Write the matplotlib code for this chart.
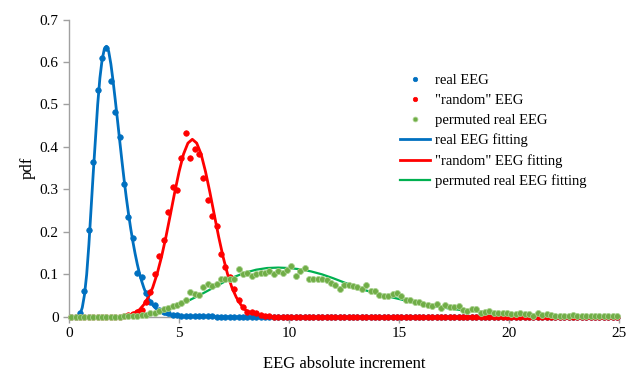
import numpy as np
import matplotlib.pyplot as plt

plt.rcParams['font.family'] = ['Liberation Serif', 'DejaVu Serif']

# abscissa of the histogram points (bin centres)
x_pts = np.round(np.arange(0.1, 25.0, 0.2), 1)

real_eeg = [
    0.000, 0.000, 0.008, 0.060, 0.204, 0.364, 0.535, 0.610, 0.634, 0.555,
    0.482, 0.423, 0.312, 0.234, 0.186, 0.104, 0.093, 0.057, 0.036, 0.029,
    0.016, 0.012, 0.008, 0.005, 0.004, 0.003, 0.003, 0.002, 0.002, 0.001,
    0.001, 0.001, 0.001, 0.000, 0.000, 0.000, 0.000, 0.000, 0.000, 0.000,
    0.000, 0.000, 0.000, 0.000, 0.000, 0.000, 0.000, 0.000, 0.000, 0.000,
    0.000, 0.000, 0.000, 0.000, 0.000, 0.000, 0.000, 0.000, 0.000, 0.000,
    0.000, 0.000, 0.000, 0.000, 0.000, 0.000, 0.000, 0.000, 0.000, 0.000,
    0.000, 0.000, 0.000, 0.000, 0.000, 0.000, 0.000, 0.000, 0.000, 0.000,
    0.000, 0.000, 0.000, 0.000, 0.000, 0.000, 0.000, 0.000, 0.000, 0.000,
    0.000, 0.000, 0.000, 0.000, 0.000, 0.000, 0.000, 0.000, 0.000, 0.000,
    0.000, 0.000, 0.000, 0.000, 0.000, 0.000, 0.000, 0.000, 0.000, 0.000,
    0.000, 0.000, 0.000, 0.000, 0.000, 0.000, 0.000, 0.000, 0.000, 0.000,
    0.000, 0.000, 0.000, 0.000, 0.000,
]

random_eeg = [
    0.000, 0.000, 0.000, 0.000, 0.000, 0.000, 0.000, 0.000, 0.000, 0.000,
    0.000, 0.000, 0.002, 0.004, 0.007, 0.011, 0.017, 0.035, 0.059, 0.100,
    0.143, 0.182, 0.246, 0.306, 0.298, 0.375, 0.434, 0.374, 0.395, 0.384,
    0.326, 0.276, 0.237, 0.213, 0.148, 0.118, 0.093, 0.066, 0.039, 0.024,
    0.012, 0.012, 0.010, 0.005, 0.002, 0.001, 0.000, 0.000, 0.000, 0.000,
    0.000, 0.000, 0.000, 0.000, 0.000, 0.000, 0.000, 0.000, 0.000, 0.000,
    0.000, 0.000, 0.000, 0.000, 0.000, 0.000, 0.000, 0.000, 0.000, 0.000,
    0.000, 0.000, 0.000, 0.000, 0.000, 0.000, 0.000, 0.000, 0.000, 0.000,
    0.000, 0.000, 0.000, 0.000, 0.000, 0.000, 0.000, 0.000, 0.000, 0.000,
    0.000, 0.000, 0.000, 0.000, 0.000, 0.000, 0.000, 0.000, 0.000, 0.000,
    0.000, 0.000, 0.000, 0.000, 0.000, 0.000, 0.000, 0.000, 0.000, 0.000,
    0.000, 0.000, 0.000, 0.000, 0.000, 0.000, 0.000, 0.000, 0.000, 0.000,
    0.000, 0.000, 0.000, 0.000, 0.000,
]

permuted_eeg = [
    0.000, 0.000, 0.000, 0.000, 0.000, 0.000, 0.000, 0.000, 0.000, 0.000,
    0.000, 0.000, 0.001, 0.001, 0.002, 0.003, 0.004, 0.005, 0.008, 0.010,
    0.015, 0.019, 0.021, 0.026, 0.029, 0.032, 0.040, 0.059, 0.053, 0.051,
    0.070, 0.078, 0.072, 0.078, 0.089, 0.089, 0.090, 0.090, 0.113, 0.102,
    0.103, 0.097, 0.102, 0.103, 0.104, 0.108, 0.100, 0.108, 0.104, 0.110,
    0.119, 0.096, 0.108, 0.114, 0.089, 0.090, 0.089, 0.089, 0.087, 0.080,
    0.075, 0.066, 0.075, 0.074, 0.073, 0.070, 0.066, 0.076, 0.061, 0.060,
    0.052, 0.048, 0.048, 0.053, 0.056, 0.048, 0.040, 0.040, 0.036, 0.035,
    0.031, 0.029, 0.025, 0.031, 0.020, 0.027, 0.024, 0.024, 0.026, 0.016,
    0.013, 0.019, 0.018, 0.010, 0.012, 0.013, 0.010, 0.009, 0.009, 0.008,
    0.007, 0.007, 0.009, 0.006, 0.006, 0.003, 0.008, 0.005, 0.006, 0.005,
    0.003, 0.003, 0.003, 0.003, 0.004, 0.003, 0.003, 0.002, 0.002, 0.002,
    0.002, 0.002, 0.002, 0.002, 0.002,
]

# fitted curves
real_fit_x = [0.0, 0.3, 0.4, 0.5, 0.6, 0.7, 0.8, 0.9, 1.0, 1.1, 1.2, 1.3, 1.4,
              1.5, 1.6, 1.7, 1.8, 1.9, 2.0, 2.1, 2.2, 2.3, 2.4, 2.5, 2.6, 2.7,
              2.8, 2.9, 3.0, 3.1, 3.2, 3.3, 3.4, 3.5, 3.6, 3.7, 3.8, 3.9, 4.0,
              4.2, 4.4, 4.6, 4.8, 5.0, 5.5, 6.0, 7.0, 25.0]
real_fit = [0.0, 0.0, 0.001, 0.006, 0.022, 0.052, 0.100, 0.170, 0.255, 0.340,
            0.420, 0.500, 0.562, 0.605, 0.630, 0.637, 0.625, 0.595, 0.555,
            0.510, 0.463, 0.415, 0.368, 0.323, 0.281, 0.243, 0.208, 0.177,
            0.149, 0.124, 0.102, 0.084, 0.068, 0.055, 0.044, 0.035, 0.028,
            0.022, 0.017, 0.010, 0.006, 0.0035, 0.002, 0.001, 0.0004, 0.0001,
            0.0, 0.0]

random_fit_x = [0.0, 2.0, 2.4, 2.8, 3.0, 3.2, 3.4, 3.6, 3.8, 4.0, 4.2, 4.4,
                4.6, 4.8, 5.0, 5.2, 5.4, 5.6, 5.8, 6.0, 6.2, 6.4, 6.6, 6.8,
                7.0, 7.2, 7.4, 7.6, 7.8, 8.0, 8.2, 8.4, 8.6, 8.8, 9.0, 10.0,
                25.0]
random_fit = [0.0, 0.0003, 0.0014, 0.0054, 0.010, 0.017, 0.029, 0.046, 0.069,
              0.101, 0.141, 0.188, 0.240, 0.293, 0.342, 0.383, 0.409, 0.418,
              0.409, 0.383, 0.342, 0.293, 0.240, 0.188, 0.141, 0.101, 0.069,
              0.046, 0.029, 0.017, 0.010, 0.005, 0.003, 0.001, 0.0005, 0.0,
              0.0]

permuted_fit_x = [0.0, 1.0, 1.5, 2.0, 2.5, 3.0, 3.5, 4.0, 4.5, 5.0, 5.5, 6.0,
                  6.5, 7.0, 7.5, 8.0, 8.5, 9.0, 9.5, 10.0, 10.5, 11.0, 11.5,
                  12.0, 12.5, 13.0, 13.5, 14.0, 14.5, 15.0, 15.5, 16.0, 16.5,
                  17.0, 17.5, 18.0, 18.5, 19.0, 19.5, 20.0, 20.5, 21.0, 22.0,
                  23.0, 24.0, 25.0]
permuted_fit = [0.0, 0.0, 0.0002, 0.001, 0.002, 0.003, 0.006, 0.011, 0.019,
                0.028, 0.040, 0.053, 0.067, 0.081, 0.094, 0.104, 0.111, 0.115,
                0.116, 0.115, 0.112, 0.107, 0.100, 0.091, 0.081, 0.071, 0.062,
                0.055, 0.048, 0.042, 0.036, 0.031, 0.026, 0.022, 0.018, 0.015,
                0.013, 0.011, 0.009, 0.007, 0.006, 0.005, 0.003, 0.002,
                0.0015, 0.001]

blue = '#0070C0'
red = '#FF0000'
green_dot = '#70AD47'
green_line = '#00B050'

fig = plt.figure(figsize=(6.28, 3.75), dpi=100)
ax = fig.add_axes([0.110, 0.155, 0.876, 0.793])

ax.plot(real_fit_x, real_fit, color=blue, lw=2, zorder=2, label='real EEG fitting')
ax.plot(random_fit_x, random_fit, color=red, lw=2, zorder=2,
        label='"random" EEG fitting')
ax.plot(permuted_fit_x, permuted_fit, color=green_line, lw=1.6, zorder=2,
        label='permuted real EEG fitting')

ax.plot(x_pts, real_eeg, 'o', color=blue, ms=4, mec=blue, mew=0.5,
        clip_on=False, zorder=3, label='real EEG')
ax.plot(x_pts, random_eeg, 'o', color=red, ms=4, mec=red, mew=0.5,
        clip_on=False, zorder=3, label='"random" EEG')
ax.plot(x_pts, permuted_eeg, 'o', color=green_dot, ms=4.3, mec='#A9D18E',
        mew=0.6, clip_on=False, zorder=3, label='permuted real EEG')

ax.set_xlim(0, 25)
ax.set_ylim(0, 0.7)
ax.set_xticks([0, 5, 10, 15, 20, 25])
ax.set_yticks([0, 0.1, 0.2, 0.3, 0.4, 0.5, 0.6, 0.7])
ax.set_yticklabels(['0', '0.1', '0.2', '0.3', '0.4', '0.5', '0.6', '0.7'])
ax.tick_params(labelsize=11, colors='#A0A0A0', labelcolor='black',
               length=4, width=1)
for side in ['top', 'right']:
    ax.spines[side].set_visible(False)
for side in ['left', 'bottom']:
    ax.spines[side].set_color('#A0A0A0')
    ax.spines[side].set_linewidth(1)

ax.set_xlabel('EEG absolute increment', fontsize=12, labelpad=11)
ax.set_ylabel('pdf', fontsize=12, labelpad=3)

handles, labels = ax.get_legend_handles_labels()
order = [3, 4, 5, 0, 1, 2]
leg = ax.legend([handles[i] for i in order], [labels[i] for i in order],
                loc='upper left', bbox_to_anchor=(0.601, 0.816),
                frameon=False, fontsize=10.5, borderaxespad=0, borderpad=0,
                handlelength=2.1, handletextpad=0.3, labelspacing=0.45,
                markerscale=0.8)

fig.savefig('out.png', dpi=100)
